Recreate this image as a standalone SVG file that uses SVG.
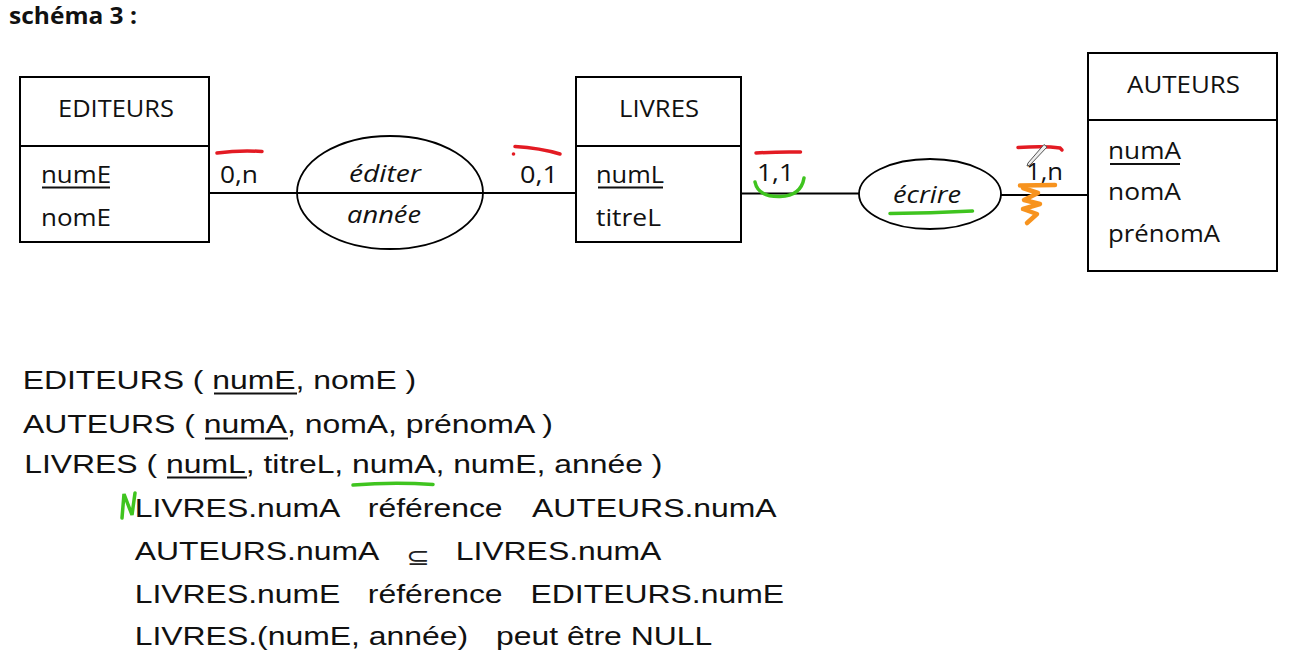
<svg xmlns="http://www.w3.org/2000/svg" width="1301" height="660" viewBox="0 0 1301 660">
<style>
.box{fill:#fff;stroke:#000;stroke-width:2}
.sep{stroke:#000;stroke-width:2}
.ell{fill:#fff;stroke:#000;stroke-width:1.8}
.con{stroke:#000;stroke-width:1.8;fill:none}
.lbl{font-family:"Open Sans","Noto Sans",sans-serif;font-size:23px;fill:#111}
.it{font-style:italic}
.ttl{font-family:"Open Sans","Noto Sans",sans-serif;font-size:23px;font-weight:bold;fill:#111}
.rel{font-family:"Liberation Sans",Arial,sans-serif;font-size:26px;fill:#111}
.sym{font-family:"DejaVu Sans",sans-serif;font-size:23px;fill:#222}
.ul{stroke:#111;stroke-width:2}
.red{stroke:#e31b23;stroke-width:3.5;fill:none;stroke-linecap:round}
.grn{stroke:#3fc41f;stroke-width:3.5;fill:none;stroke-linecap:round}
.org{stroke:#f7931e;stroke-width:4.5;fill:none;stroke-linecap:round;stroke-linejoin:round}
</style>

<g id="title"><text class="ttl" x="9" y="24" textLength="128" lengthAdjust="spacingAndGlyphs">schéma 3 :</text></g>

<g id="connectors">
<line class="con" x1="209" y1="193" x2="297" y2="193"/>
<line class="con" x1="483" y1="193" x2="576" y2="193"/>
<line class="con" x1="741" y1="193.5" x2="859" y2="193.5"/>
<line class="con" x1="1001" y1="195" x2="1088" y2="195"/>
</g>

<g id="EDITEURS">
<rect class="box" x="20" y="77" width="189" height="165"/>
<line class="sep" x1="20" y1="146" x2="209" y2="146"/>
<text class="lbl" x="58" y="117" textLength="116" lengthAdjust="spacingAndGlyphs">EDITEURS</text>
<text class="lbl" x="41" y="183" textLength="70" lengthAdjust="spacingAndGlyphs">numE</text>
<line class="ul" x1="42" y1="187.5" x2="110" y2="187.5"/>
<text class="lbl" x="41" y="226" textLength="70" lengthAdjust="spacingAndGlyphs">nomE</text>
</g>

<g id="LIVRES">
<rect class="box" x="576" y="77" width="165" height="165"/>
<line class="sep" x1="576" y1="146" x2="741" y2="146"/>
<text class="lbl" x="619" y="117" textLength="80" lengthAdjust="spacingAndGlyphs">LIVRES</text>
<text class="lbl" x="596" y="183" textLength="68" lengthAdjust="spacingAndGlyphs">numL</text>
<line class="ul" x1="598" y1="187.5" x2="663" y2="187.5"/>
<text class="lbl" x="596" y="226" textLength="65" lengthAdjust="spacingAndGlyphs">titreL</text>
</g>

<g id="AUTEURS">
<rect class="box" x="1088" y="53" width="189" height="218"/>
<line class="sep" x1="1088" y1="120" x2="1277" y2="120"/>
<text class="lbl" x="1127" y="93" textLength="113" lengthAdjust="spacingAndGlyphs">AUTEURS</text>
<text class="lbl" x="1108" y="158.5" textLength="73" lengthAdjust="spacingAndGlyphs">numA</text>
<line class="ul" x1="1110" y1="164" x2="1180" y2="164"/>
<text class="lbl" x="1108" y="200" textLength="73" lengthAdjust="spacingAndGlyphs">nomA</text>
<text class="lbl" x="1108" y="241.5" textLength="112" lengthAdjust="spacingAndGlyphs">prénomA</text>
</g>

<g id="editer">
<ellipse class="ell" cx="390" cy="192.5" rx="93" ry="56.5"/>
<line class="con" x1="297" y1="193" x2="483" y2="193"/>
<text class="lbl it" x="349" y="182" textLength="72" lengthAdjust="spacingAndGlyphs">éditer</text>
<text class="lbl it" x="347" y="223" textLength="74" lengthAdjust="spacingAndGlyphs">année</text>
</g>

<g id="ecrire">
<ellipse class="ell" cx="930" cy="194" rx="71" ry="35"/>
<text class="lbl it" x="893" y="203" textLength="68" lengthAdjust="spacingAndGlyphs">écrire</text>
</g>

<g id="cardinalities">
<text class="lbl" x="220" y="183" textLength="38" lengthAdjust="spacingAndGlyphs">0,n</text>
<text class="lbl" x="520" y="183" textLength="38" lengthAdjust="spacingAndGlyphs">0,1</text>
<text class="lbl" x="757" y="181" textLength="37" lengthAdjust="spacingAndGlyphs">1,1</text>
<text class="lbl" x="1026" y="179.5" textLength="37" lengthAdjust="spacingAndGlyphs">1,n</text>
</g>

<g id="annotations">
<path class="red" d="M217,153 Q240,150 262,151.5"/>
<path class="red" d="M515,146.5 Q540,148 560,154"/>
<circle cx="513.5" cy="154" r="1.8" fill="#e31b23"/>
<path class="red" d="M756,153 Q778,151.5 800.5,152"/>
<path class="red" d="M1018,147.5 Q1045,146 1060,148 L1062,150"/>
<path class="grn" d="M755,182 Q758,197 780,196.5 Q801,196 804,178"/>
<path class="grn" d="M890,213.5 Q930,213 972.5,211"/>
<path class="org" d="M1020,185.5 L1055,185"/>
<path class="org" d="M1023,188 L1038,193 L1024,200 L1040,204 L1023,209 L1037,214 L1027,223"/>
<path d="M1044,144.5 L1047,147 L1030,165 L1027,166 L1028,163 Z" fill="#eee" stroke="#555" stroke-width="1"/>
<path class="grn" stroke-width="6" d="M122,518 L124,494 L132,515 L135,493"/>
</g>

<g id="schema">
<g transform="scale(1.227,1)">
<text class="rel" x="18.5" y="389">EDITEURS ( numE, nomE )</text>
<text class="rel" x="18.7" y="433">AUTEURS ( numA, nomA, prénomA )</text>
<text class="rel" x="19.7" y="473">LIVRES ( numL, titreL, numA, numE, année )</text>
<text class="rel" x="109.8" y="517">LIVRES.numA</text>
<text class="rel" x="299.8" y="517">référence</text>
<text class="rel" x="433.6" y="517">AUTEURS.numA</text>
<text class="rel" x="109.8" y="560">AUTEURS.numA</text>
<text class="sym" x="331" y="565">⊆</text>
<text class="rel" x="371.4" y="560">LIVRES.numA</text>
<text class="rel" x="109.8" y="603">LIVRES.numE</text>
<text class="rel" x="299.8" y="603">référence</text>
<text class="rel" x="432.4" y="603">EDITEURS.numE</text>
<text class="rel" x="109.8" y="645">LIVRES.(numE, année)</text>
<text class="rel" x="404.2" y="645">peut être NULL</text>
</g>
<line class="ul" x1="214" y1="393.5" x2="297" y2="393.5"/>
<line class="ul" x1="205" y1="438.5" x2="288" y2="438.5"/>
<line class="ul" x1="167" y1="477.5" x2="247" y2="477.5"/>
<path class="grn" stroke-width="3" d="M353,485 Q393,482 433,484.5"/>
</g>
</svg>
